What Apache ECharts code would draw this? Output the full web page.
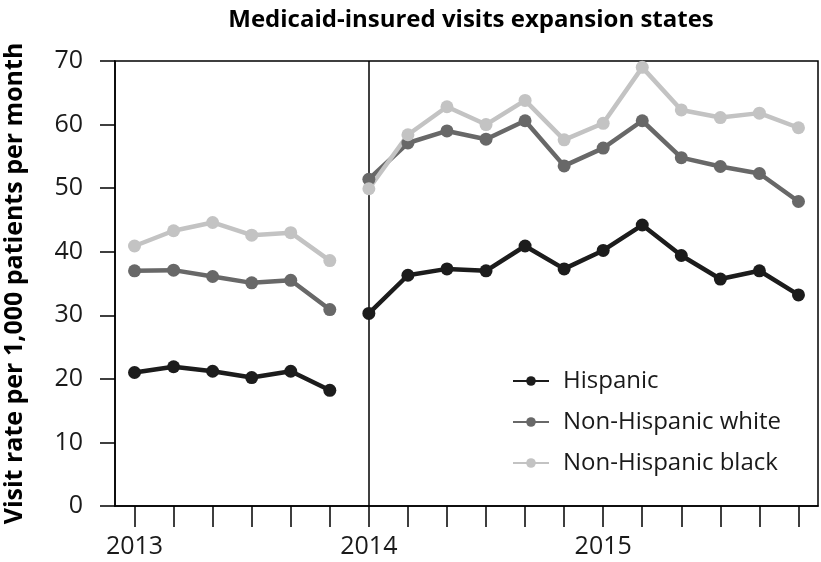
<!DOCTYPE html>
<html>
<head>
<meta charset="utf-8">
<script src="https://cdn.jsdelivr.net/npm/echarts@6/dist/echarts.min.js"></script>
<style>
  html, body { margin: 0; padding: 0; background: #fff; }
  #chart { width: 821px; height: 562px; }
</style>
</head>
<body>
<div id="chart"></div>
<script>
// bi-monthly periods, 2013 pre-expansion then 2014-2015
var periods = ['2013-01', '2013-03', '2013-05', '2013-07', '2013-09', '2013-11',
  '2014-01', '2014-03', '2014-05', '2014-07', '2014-09', '2014-11',
  '2015-01', '2015-03', '2015-05', '2015-07', '2015-09', '2015-11'];
var yearLabels = { 0: '2013', 6: '2014', 12: '2015' };

var hispanic2013 = [21.0, 21.9, 21.2, 20.2, 21.2, 18.2];
var hispanic2014 = [30.3, 36.3, 37.3, 37.0, 40.9, 37.3, 40.2, 44.2, 39.4, 35.7, 37.0, 33.2];
var white2013 = [37.0, 37.1, 36.1, 35.1, 35.5, 30.9];
var white2014 = [51.4, 57.1, 59.0, 57.7, 60.6, 53.5, 56.3, 60.6, 54.8, 53.4, 52.3, 47.9];
var black2013 = [40.9, 43.3, 44.6, 42.6, 43.0, 38.6];
var black2014 = [49.9, 58.4, 62.8, 60.0, 63.8, 57.6, 60.2, 69.0, 62.3, 61.1, 61.8, 59.5];

var yTicks = { min: 0, max: 70, interval: 10 };

var groups = [
  { name: 'Hispanic', color: '#1c1c1c', pre: hispanic2013, post: hispanic2014 },
  { name: 'Non-Hispanic white', color: '#686868', pre: white2013, post: white2014 },
  { name: 'Non-Hispanic black', color: '#c3c3c3', pre: black2013, post: black2014 }
];

function padPre(arr) {
  return arr.concat(new Array(periods.length - arr.length).fill('-'));
}
function padPost(arr) {
  return new Array(periods.length - arr.length).fill('-').concat(arr);
}

var font = 'Open Sans';
var series = [];
groups.forEach(function (g, i) {
  [padPre(g.pre), padPost(g.post)].forEach(function (d, k) {
    var s = {
      name: g.name,
      type: 'line',
      data: d,
      symbol: 'circle',
      symbolSize: 13,
      showSymbol: true,
      connectNulls: false,
      itemStyle: { color: g.color },
      lineStyle: { color: g.color, width: 4.5 },
      emphasis: { disabled: true }
    };
    if (i === 0 && k === 1) {
      s.markLine = {
        silent: true,
        symbol: 'none',
        label: { show: false },
        lineStyle: { color: '#000', width: 1.5, type: 'solid' },
        data: [{ xAxis: 6 }],
        z: 1
      };
    }
    series.push(s);
  });
});

var chart = echarts.init(document.getElementById('chart'), null, { renderer: 'canvas' });
chart.setOption({
  animation: false,
  backgroundColor: '#fff',
  title: {
    text: 'Medicaid-insured visits expansion states',
    left: 466,
    textAlign: 'center',
    top: 3,
    textStyle: { fontFamily: font, fontWeight: 'bold', fontSize: 24, color: '#000' }
  },
  legend: {
    orient: 'vertical',
    left: 512,
    top: 369,
    padding: 0,
    itemWidth: 36,
    itemHeight: 12,
    itemGap: 17,
    textStyle: { fontFamily: font, fontSize: 24, color: '#1a1a1a', padding: [0, 0, 0, 9] },
    data: groups.map(function (g) { return g.name; })
  },
  grid: {
    left: 115, right: 3, top: 61, bottom: 56,
    outerBoundsMode: 'none',
    containLabel: false,
    show: true, borderColor: '#000', borderWidth: 1.5
  },
  xAxis: {
    type: 'category',
    data: periods,
    boundaryGap: true,
    axisLine: { show: true, lineStyle: { color: '#000', width: 1.5 } },
    axisTick: { show: true, alignWithLabel: true, interval: 0, length: 21, lineStyle: { color: '#000', width: 1.5 } },
    axisLabel: {
      interval: 0,
      margin: 28,
      fontFamily: font,
      fontSize: 25,
      color: '#1a1a1a',
      formatter: function (v, idx) { return yearLabels[idx] || ''; }
    },
    splitLine: { show: false }
  },
  yAxis: {
    type: 'value',
    min: yTicks.min,
    max: yTicks.max,
    interval: yTicks.interval,
    name: 'Visit rate per 1,000 patients per month',
    nameLocation: 'middle',
    nameGap: 88,
    nameTextStyle: { fontFamily: font, fontWeight: 'bold', fontSize: 25, color: '#000' },
    axisLine: { show: true, lineStyle: { color: '#000', width: 1.5 } },
    axisTick: { show: true, length: 15, lineStyle: { color: '#000', width: 1.5 } },
    axisLabel: { margin: 32, fontFamily: font, fontSize: 25, color: '#1a1a1a' },
    splitLine: { show: false }
  },
  series: series
});
window.addEventListener('resize', chart.resize);
</script>
</body>
</html>
